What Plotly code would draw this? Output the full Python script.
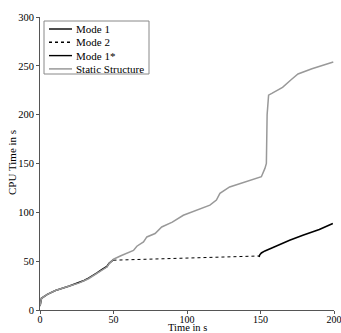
import plotly.graph_objects as go

# ---- data ----
static_x = [0, 0.5, 1, 5, 10.5, 20, 26.3, 33, 38.8, 42, 45.5, 47, 49.4, 50, 55, 63.6, 65.9, 70.4,
            72.7, 78.3, 82.8, 90, 97.5, 105, 110, 115.6, 120, 122.4, 129, 140, 150.6, 153, 154,
            154.5, 155, 155.5, 158, 165, 171, 175.5, 185, 199.5]
static_y = [4, 9, 12, 16, 20, 24.5, 27.5, 32, 37.2, 40.5, 44, 47.5, 51.6, 52, 55.5, 61, 65.3, 69.7,
            74.8, 78.3, 85, 90, 97, 101, 104, 107.4, 112.5, 119.4, 126, 131, 136.5, 145, 150,
            200, 217, 220, 222, 228, 236, 241.7, 247, 254]

mode1_x = [0, 0.5, 1, 5, 10.5, 20, 26.3, 30, 33, 36, 38.8, 42, 45.5, 47, 49.4, 50]
mode1_y = [4, 9, 12, 16, 20, 24.5, 27.8, 30.2, 32.6, 35, 38, 41.3, 44.5, 47.8, 51.3, 51.5]

mode2_x = [50, 60, 75, 90, 108.8, 125, 140, 149]
mode2_y = [51.0, 51.5, 52.2, 52.8, 53.6, 54.4, 55.0, 55.3]

mode1s_x = [149, 149.5, 150.6, 153, 158.5, 165, 169.8, 178.8, 190, 199.2]
mode1s_y = [54.3, 56.5, 58.4, 60.5, 64, 68.5, 71.4, 76.6, 82.5, 88.6]

legend_names = ["Mode 1", "Mode 2", "Mode 1*", "Static Structure"]
legend_colors = ["black", "black", "black", "#999999"]
legend_dashes = ["solid", "dot", "solid", "solid"]

x_ticks = [0, 50, 100, 150, 200]
y_ticks = [0, 50, 100, 150, 200, 250, 300]

FONT = "Liberation Serif"

fig = go.Figure()
fig.add_trace(go.Scatter(x=mode1_x, y=mode1_y, mode="lines", name=legend_names[0],
                         line=dict(color="black", width=1.6)))
fig.add_trace(go.Scatter(x=mode2_x, y=mode2_y, mode="lines", name=legend_names[1],
                         line=dict(color="black", width=1.0, dash="dot")))
fig.add_trace(go.Scatter(x=mode1s_x, y=mode1s_y, mode="lines", name=legend_names[2],
                         line=dict(color="black", width=1.6)))
fig.add_trace(go.Scatter(x=static_x, y=static_y, mode="lines", name=legend_names[3],
                         line=dict(color="#999999", width=1.5)))

# manual legend (box, samples, labels) in pixel-matched paper coords
W, H = 341, 333
L, R, T, B = 40, 7, 17, 23
pw, ph = W - L - R, H - T - B

def px(xp):
    return (xp - L) / pw

def py(yp):
    return 1 - (yp - T) / ph

shapes = [dict(type="rect", xref="paper", yref="paper", x0=px(44), x1=px(149), y0=py(74), y1=py(21),
               line=dict(color="#888888", width=1), fillcolor="white", layer="above")]
annotations = []
for i, (nm, c, d) in enumerate(zip(legend_names, legend_colors, legend_dashes)):
    yy = 29 + i * 13.3
    shapes.append(dict(type="line", xref="paper", yref="paper", x0=px(49), x1=px(72), y0=py(yy), y1=py(yy),
                       line=dict(color=c, width=1.4 if c == "black" else 1.5, dash=d if d == "solid" else "dot"),
                       layer="above"))
    annotations.append(dict(xref="paper", yref="paper", x=px(74), y=py(yy), text=nm, showarrow=False,
                            xanchor="left", yanchor="middle", font=dict(family=FONT, size=11, color="black")))

# axis titles placed as annotations at reference pixel positions
annotations.append(dict(xref="paper", yref="paper", x=px(187), y=py(333.5), text="Time in s", showarrow=False,
                        xanchor="center", yanchor="bottom", borderpad=0,
                        font=dict(family=FONT, size=10.5, color="black")))
annotations.append(dict(xref="paper", yref="paper", x=px(12), y=py(163), text="CPU Time in s", showarrow=False,
                        textangle=-90, xanchor="center", yanchor="middle",
                        font=dict(family=FONT, size=11, color="black")))

axis_common = dict(ticks="outside", ticklen=3, tickcolor="#555555", showline=True, linecolor="#555555",
                   linewidth=1, showgrid=False, zeroline=False, automargin=False,
                   ticklabeloverflow="allow")

fig.update_layout(
    width=W, height=H,
    margin=dict(l=L, r=R, t=T, b=B),
    paper_bgcolor="white", plot_bgcolor="white",
    showlegend=False,
    font=dict(family=FONT, size=11, color="black"),
    shapes=shapes, annotations=annotations,
    xaxis=dict(range=[0, 200], tickvals=x_ticks, ticklabelstandoff=-3,
               tickfont=dict(family=FONT, size=10, color="black"), **axis_common),
    yaxis=dict(range=[0, 300], tickvals=y_ticks,
               tickfont=dict(family=FONT, size=10.5, color="black"), **axis_common),
)

fig.write_html("out.html", config={"displayModeBar": False},
               post_script="document.body.style.margin='0';document.body.style.padding='0';")
